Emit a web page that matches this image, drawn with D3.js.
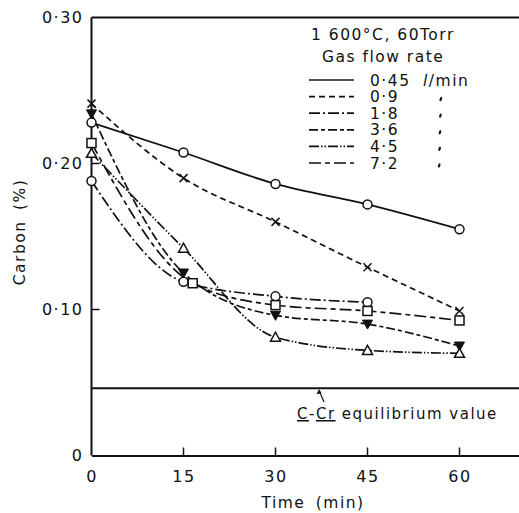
<!DOCTYPE html>
<html>
<head>
<meta charset="utf-8">
<script src="https://cdn.jsdelivr.net/npm/d3@7"></script>
<style>
  html, body { margin: 0; padding: 0; background: #fff; }
  svg { display: block; }
  text { font-family: "DejaVu Sans", sans-serif; fill: #111; letter-spacing: 1.5px; }
</style>
</head>
<body>
<svg id="chart" width="519" height="513"></svg>
<script>
// Decarburization of Fe–Cr melt at 1600 °C, 60 Torr, for several gas flow rates
const times = [0, 15, 30, 45, 60];
const flowLabels = ["0·45", "0·9", "1·8", "3·6", "4·5", "7·2"];

const carbon045 = [0.228, 0.2075, 0.186, 0.172, 0.155];
const carbon09  = [0.241, 0.190, 0.160, 0.129, 0.099];
const carbon18  = [0.188, 0.119, 0.109, 0.105];
const carbon36  = [0.234, 0.125, 0.096, 0.090, 0.075];
const carbon45  = [0.207, 0.142, 0.081, 0.072, 0.070];
const carbon72  = [0.214, 0.118, 0.103, 0.099, 0.0925];
const times72   = [0, 16.5, 30, 45, 60];

const equilibriumC = 0.046;

const xTicks = [0, 15, 30, 45, 60];
const yTicks = [0, 0.10, 0.20, 0.30];
const yTickLabels = ["0", "0·10", "0·20", "0·30"];

const series = [
  { label: flowLabels[0], t: times,  c: carbon045, marker: "circle",   dash: null },
  { label: flowLabels[1], t: times,  c: carbon09,  marker: "cross",    dash: "6,4" },
  { label: flowLabels[2], t: times,  c: carbon18,  marker: "circle",   dash: "11,3,2,3" },
  { label: flowLabels[3], t: times,  c: carbon36,  marker: "tridown",  dash: "9,3,4,3" },
  { label: flowLabels[4], t: times,  c: carbon45,  marker: "triup",    dash: "10,2,1.5,2,1.5,2" },
  { label: flowLabels[5], t: times72, c: carbon72, marker: "square",   dash: "12,4,5,4" }
];

const svg = d3.select("#chart");
const x = d3.scaleLinear().domain([0, 69.7]).range([91.5, 519]);
const y = d3.scaleLinear().domain([0, 0.30]).range([455.5, 17.5]);

const ink = "#111";

// frame: y axis, top line, x axis
svg.append("line").attr("x1", x(0)).attr("x2", x(0)).attr("y1", y(0.30)).attr("y2", y(0))
  .attr("stroke", ink).attr("stroke-width", 2);
svg.append("line").attr("x1", x(0)).attr("x2", 519).attr("y1", y(0.30)).attr("y2", y(0.30))
  .attr("stroke", ink).attr("stroke-width", 2);

const xAxis = d3.axisBottom(x).tickValues(xTicks).tickSize(0).tickPadding(15)
  .tickFormat(d => String(d));
const gx = svg.append("g").attr("transform", `translate(0,${y(0)})`).call(xAxis);
gx.select(".domain").attr("stroke", ink).attr("stroke-width", 2);
gx.selectAll("text").style("font-size", "16px").style("font-family", "DejaVu Sans").attr("fill", ink);
// inward ticks
svg.selectAll(".xt").data(xTicks.slice(1)).enter().append("line")
  .attr("x1", d => x(d)).attr("x2", d => x(d)).attr("y1", y(0)).attr("y2", y(0) - 8)
  .attr("stroke", ink).attr("stroke-width", 1.5);

const yAxis = d3.axisLeft(y).tickValues(yTicks).tickSize(0).tickPadding(8)
  .tickFormat((d, i) => yTickLabels[i]);
const gy = svg.append("g").attr("transform", `translate(${x(0)},0)`).call(yAxis);
gy.select(".domain").remove();
gy.selectAll("text").style("font-size", "16px").style("font-family", "DejaVu Sans").attr("fill", ink);
svg.selectAll(".yt").data([0.10, 0.20]).enter().append("line")
  .attr("x1", x(0)).attr("x2", x(0) + 8).attr("y1", d => y(d)).attr("y2", d => y(d))
  .attr("stroke", ink).attr("stroke-width", 1.5);

// axis titles
svg.append("text").attr("x", 313).attr("y", 508).attr("text-anchor", "middle")
  .style("font-size", "15.5px").style("word-spacing", "4px").text("Time (min)");
svg.append("text").attr("transform", "translate(25,232) rotate(-90)").attr("text-anchor", "middle")
  .style("font-size", "15.5px").style("word-spacing", "4px").text("Carbon (%)");

// equilibrium line and its note
svg.append("line").attr("x1", x(0)).attr("x2", 519).attr("y1", y(equilibriumC)).attr("y2", y(equilibriumC))
  .attr("stroke", ink).attr("stroke-width", 2);
const eq = svg.append("text").attr("x", 297).attr("y", 419).style("font-size", "15px");
eq.append("tspan").attr("text-decoration", "underline").text("C");
eq.append("tspan").text("-");
eq.append("tspan").attr("text-decoration", "underline").text("Cr");
eq.append("tspan").text(" equilibrium value");
svg.append("line").attr("x1", 324).attr("y1", 402).attr("x2", 319).attr("y2", y(equilibriumC) + 2)
  .attr("stroke", ink).attr("stroke-width", 1.2);
svg.append("path").attr("d", `M319,${y(equilibriumC) + 1} l-2.5,5 l5,-1 z`).attr("fill", ink);

// curves
const line = d3.line().x(d => x(d[0])).y(d => y(d[1])).curve(d3.curveMonotoneX);
series.forEach(s => {
  const pts = s.c.map((v, i) => [s.t[i], v]);
  svg.append("path").attr("d", line(pts)).attr("fill", "none").attr("stroke", ink)
    .attr("stroke-width", 1.7).attr("stroke-dasharray", s.dash);
});

// markers
function drawMarker(g, type, cx, cy) {
  if (type === "circle") {
    g.append("circle").attr("cx", cx).attr("cy", cy).attr("r", 4.5)
      .attr("fill", "#fff").attr("stroke", ink).attr("stroke-width", 1.5);
  } else if (type === "square") {
    g.append("rect").attr("x", cx - 4.5).attr("y", cy - 4.5).attr("width", 9).attr("height", 9)
      .attr("fill", "#fff").attr("stroke", ink).attr("stroke-width", 1.5);
  } else if (type === "triup") {
    g.append("path").attr("d", `M${cx},${cy - 5} L${cx + 5},${cy + 4} L${cx - 5},${cy + 4} Z`)
      .attr("fill", "#fff").attr("stroke", ink).attr("stroke-width", 1.5);
  } else if (type === "tridown") {
    g.append("path").attr("d", `M${cx - 5},${cy - 4} L${cx + 5},${cy - 4} L${cx},${cy + 5} Z`)
      .attr("fill", ink).attr("stroke", ink).attr("stroke-width", 1);
  } else if (type === "cross") {
    g.append("path").attr("d", `M${cx - 4},${cy - 4} L${cx + 4},${cy + 4} M${cx - 4},${cy + 4} L${cx + 4},${cy - 4}`)
      .attr("stroke", ink).attr("stroke-width", 1.5);
  }
}
const gm = svg.append("g");
series.forEach(s => {
  s.c.forEach((v, i) => drawMarker(gm, s.marker, x(s.t[i]), y(v)));
});

// legend
const lg = svg.append("g");
lg.append("text").attr("x", 311).attr("y", 40).style("font-size", "15.5px").text("1 600°C, 60Torr");
lg.append("text").attr("x", 322).attr("y", 62).style("font-size", "15.5px").text("Gas flow rate");
series.forEach((s, i) => {
  const yy = 80 + i * 16.6;
  lg.append("line").attr("x1", 309).attr("x2", 354).attr("y1", yy).attr("y2", yy)
    .attr("stroke", ink).attr("stroke-width", 1.7).attr("stroke-dasharray", s.dash);
  lg.append("text").attr("x", 370).attr("y", yy + 5.5).style("font-size", "15.5px").text(s.label);
  if (i === 0) {
    lg.append("text").attr("x", 423).attr("y", yy + 5.5).style("font-size", "15.5px")
      .html('<tspan font-style="italic">l</tspan>/min');
  } else {
    // ditto mark
    lg.append("path").attr("d", `M${441.5 - i * 0.4},${yy + 1.5} l-0.6,2`)
      .attr("stroke", ink).attr("stroke-width", 2.2).attr("stroke-linecap", "round");
  }
});
</script>
</body>
</html>
